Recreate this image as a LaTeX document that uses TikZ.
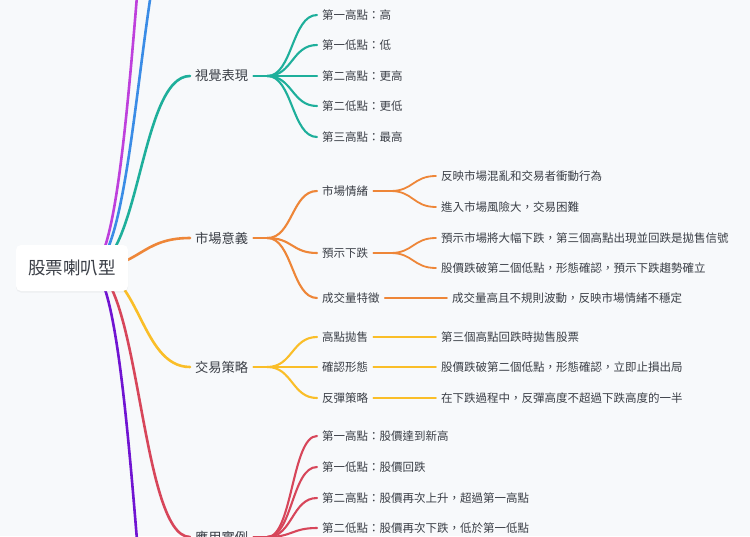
\documentclass[tikz,border=0pt]{standalone}
\usepackage{fontspec}
\newfontfamily\cjk{Noto Sans CJK TC}
\usetikzlibrary{backgrounds,shadows}
\definecolor{sfondo}{RGB}{247,249,251}
\definecolor{testo}{RGB}{58,62,70}
\definecolor{cverde}{RGB}{30,175,155}
\definecolor{carancio}{RGB}{238,134,56}
\definecolor{cgiallo}{RGB}{250,190,40}
\definecolor{crosso}{RGB}{215,70,90}
\definecolor{cviola}{RGB}{190,64,220}
\definecolor{cblu}{RGB}{58,140,230}
\definecolor{cindaco}{RGB}{112,20,210}
\tikzset{
  lv0/.style={fill=white, rounded corners=5pt, minimum width=112pt, minimum height=46pt,
    text=testo, font=\cjk\fontsize{17.5}{21}\selectfont,
    drop shadow={shadow xshift=0pt, shadow yshift=-1.5pt, opacity=0.08}},
  lv1/.style={anchor=west, inner xsep=5pt, inner ysep=2pt, text=testo, font=\cjk\fontsize{13.25}{16}\selectfont},
  lv2/.style={anchor=west, inner xsep=5pt, inner ysep=2pt, text=testo, font=\cjk\fontsize{11.5}{14}\selectfont},
  ramo1/.style={line width=2.6pt, line cap=round},
  ramo2/.style={line width=2.1pt, line cap=round},
  ramo3/.style={line width=1.8pt, line cap=round},
}
\begin{document}
\begin{tikzpicture}[x=1pt, y=-1pt]
        \useasboundingbox (0,0) rectangle (750,536);
        \clip (0,0) rectangle (750,536);
        %radice
        \node (root) at (72,268) [lv0]{股票喇叭型};
        %ramo 1
        \node (vis) at (190,76) [lv1]{視覺表現};
        \node (vis1) at (317,15) [lv2]{第一高點：高};
        \node (vis2) at (317,45) [lv2]{第一低點：低};
        \node (vis3) at (317,76) [lv2]{第二高點：更高};
        \node (vis4) at (317,106) [lv2]{第二低點：更低};
        \node (vis5) at (317,137) [lv2]{第三高點：最高};
        %ramo 2
        \node (mer) at (190,238) [lv1]{市場意義};
        \node (mer1) at (317,191) [lv2]{市場情緒};
        \node (mer11) at (436,176) [lv2]{反映市場混亂和交易者衝動行為};
        \node (mer12) at (436,207) [lv2]{進入市場風險大，交易困難};
        \node (mer2) at (317,253) [lv2]{預示下跌};
        \node (mer21) at (436,238) [lv2]{預示市場將大幅下跌，第三個高點出現並回跌是拋售信號};
        \node (mer22) at (436,268) [lv2]{股價跌破第二個低點，形態確認，預示下跌趨勢確立};
        \node (mer3) at (317,298) [lv2]{成交量特徵};
        \node (mer31) at (447,298) [lv2]{成交量高且不規則波動，反映市場情緒不穩定};
        %ramo 3
        \node (str) at (190,367) [lv1]{交易策略};
        \node (str1) at (317,337) [lv2]{高點拋售};
        \node (str11) at (436,337) [lv2]{第三個高點回跌時拋售股票};
        \node (str2) at (317,367) [lv2]{確認形態};
        \node (str21) at (436,367) [lv2]{股價跌破第二個低點，形態確認，立即止損出局};
        \node (str3) at (317,398) [lv2]{反彈策略};
        \node (str31) at (436,398) [lv2]{在下跌過程中，反彈高度不超過下跌高度的一半};
        %ramo 4
        \node (app) at (190,537) [lv1]{應用實例};
        \node (app1) at (317,436) [lv2]{第一高點：股價達到新高};
        \node (app2) at (317,467) [lv2]{第一低點：股價回跌};
        \node (app3) at (317,498) [lv2]{第二高點：股價再次上升，超過第一高點};
        \node (app4) at (317,528) [lv2]{第二低點：股價再次下跌，低於第一低點};
        %rami fuori quadro
        \coordinate (fuori1) at (190,-350);
        \coordinate (fuori2) at (190,-120);
        \coordinate (fuori3) at (190,886);
        \begin{scope}[on background layer]
        \clip (0,0) rectangle (750,536);
        \fill[sfondo] (0,0) rectangle (750,536);
        %collegamenti dalla radice
        \draw[ramo1, cviola] ([xshift=18pt]root.center) .. controls +(50,0) and +(-50,0) .. (fuori1);
        \draw[ramo1, cblu] ([xshift=18pt]root.center) .. controls +(50,0) and +(-50,0) .. (fuori2);
        \draw[ramo1, cverde] ([xshift=18pt]root.center) .. controls +(50,0) and +(-50,0) .. (vis.west);
        \draw[ramo1, carancio] ([xshift=18pt]root.center) .. controls +(50,0) and +(-50,0) .. (mer.west);
        \draw[ramo1, cgiallo] ([xshift=18pt]root.center) .. controls +(50,0) and +(-50,0) .. (str.west);
        \draw[ramo1, crosso] ([xshift=18pt]root.center) .. controls +(50,0) and +(-50,0) .. (app.west);
        \draw[ramo1, cindaco] ([xshift=18pt]root.center) .. controls +(50,0) and +(-50,0) .. (fuori3);
        %ramo 1
        \draw[ramo2, cverde] (vis.east) --++ (14,0) coordinate (visf);
        \foreach \n in {vis1,vis2,vis3,vis4,vis5}
          \draw[ramo2, cverde] (visf) to[out=0, in=180, distance=25pt] (\n.west);
        %ramo 2
        \draw[ramo2, carancio] (mer.east) --++ (14,0) coordinate (merf);
        \foreach \n in {mer1,mer2,mer3}
          \draw[ramo2, carancio] (merf) to[out=0, in=180, distance=25pt] (\n.west);
        \draw[ramo3, carancio] (mer1.east) --++ (17,0) coordinate (mer1f);
        \draw[ramo3, carancio] (mer1f) to[out=0, in=180, distance=23pt] (mer11.west);
        \draw[ramo3, carancio] (mer1f) to[out=0, in=180, distance=23pt] (mer12.west);
        \draw[ramo3, carancio] (mer2.east) --++ (17,0) coordinate (mer2f);
        \draw[ramo3, carancio] (mer2f) to[out=0, in=180, distance=23pt] (mer21.west);
        \draw[ramo3, carancio] (mer2f) to[out=0, in=180, distance=23pt] (mer22.west);
        \draw[ramo3, carancio] (mer3.east) -- (mer31.west);
        %ramo 3
        \draw[ramo2, cgiallo] (str.east) --++ (14,0) coordinate (strf);
        \foreach \n in {str1,str2,str3}
          \draw[ramo2, cgiallo] (strf) to[out=0, in=180, distance=25pt] (\n.west);
        \draw[ramo3, cgiallo] (str1.east) -- (str11.west);
        \draw[ramo3, cgiallo] (str2.east) -- (str21.west);
        \draw[ramo3, cgiallo] (str3.east) -- (str31.west);
        %ramo 4
        \draw[ramo2, crosso] (app.east) --++ (14,0) coordinate (appf);
        \foreach \n in {app1,app2,app3,app4}
          \draw[ramo2, crosso] (appf) to[out=0, in=180, distance=25pt] (\n.west);
        \end{scope}
    \end{tikzpicture}
\end{document}
